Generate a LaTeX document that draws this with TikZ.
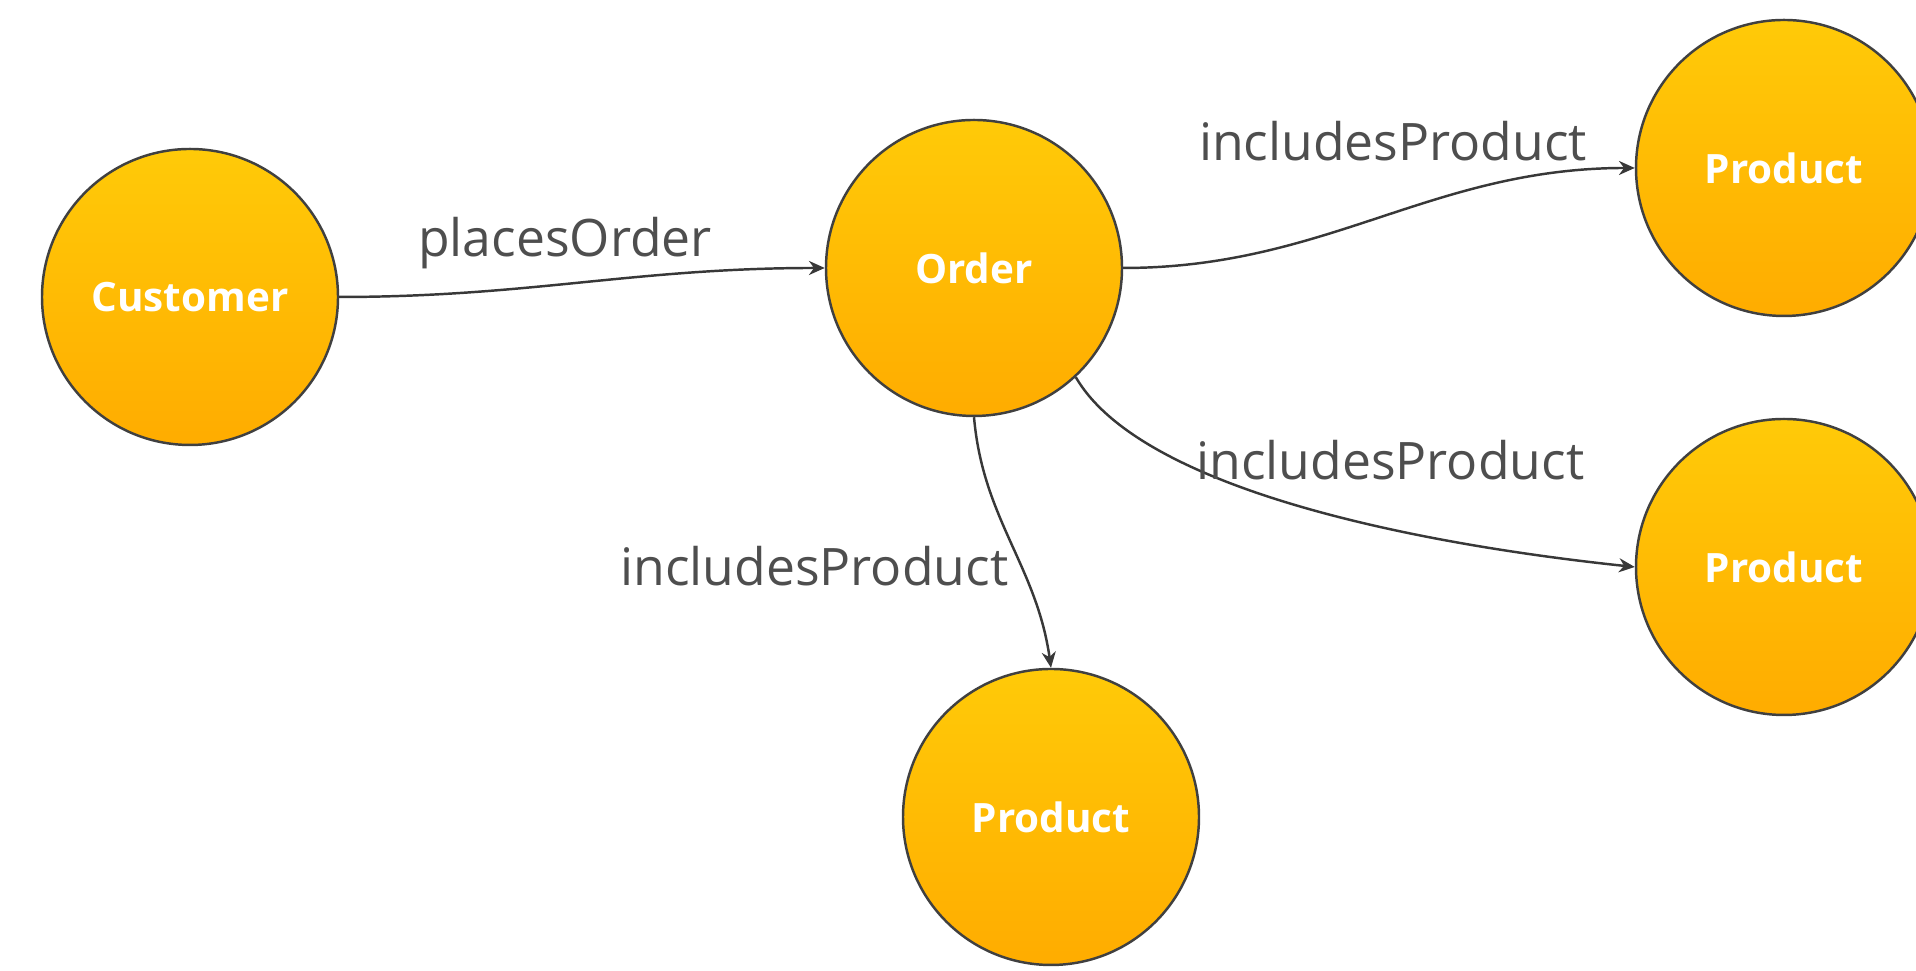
\documentclass[tikz,border=0pt]{standalone}
\usepackage{fontspec}
\setmainfont{Open Sans}
\usetikzlibrary{positioning, arrows.meta}

\definecolor{nodetop}{HTML}{FFCA08}
\definecolor{nodebot}{HTML}{FFAC00}
\definecolor{linegray}{HTML}{383838}
\definecolor{labgray}{HTML}{4E4E4E}

\begin{document}
\begin{tikzpicture}[
      >={Stealth[length=4.5pt, width=4pt]},
      entity/.style={circle, draw=black!75, line width=0.7pt, minimum size=2.96cm, inner sep=0pt,
        top color=nodetop, bottom color=nodebot, text=white, font=\fontsize{11.5}{13}\selectfont\bfseries},
      link/.style={->, line width=0.7pt, draw=linegray},
      lab/.style={font=\fontsize{14.7}{16}\selectfont, text=labgray, inner sep=1.5pt}
    ]
    \useasboundingbox (0,0) rectangle (19.16,9.71);

    \node[entity] (customer) at (1.90,6.74) {Customer};
    \node[entity] (order) at (9.74,7.03) {Order};
    \node[entity] (prodA) at (17.84,8.03) {Product};
    \node[entity] (prodB) at (17.84,4.04) {Product};
    \node[entity] (prodC) at (10.51,1.54) {Product};

    \draw[link] (customer.east) to[out=0, in=180] node[lab, above=2pt, xshift=-0.17cm] (labPlaces) {placesOrder} (order.west);
    \draw[link] (order.east) to[out=0, in=180] node[lab, above=0.5cm, xshift=0.14cm] (labIncA) {includesProduct} (prodA.west);
    \draw[link] (order.-47) to[out=-60, in=174, out looseness=0.55, in looseness=1.0]
      node[lab, pos=0.6, above=0.35cm, xshift=0.33cm] (labIncB) {includesProduct} (prodB.west);
    \draw[link] (order.south) to[out=-85, in=98] node[lab, pos=0.58, left=1pt, yshift=-0.06cm] (labIncC) {includesProduct} (prodC.north);
  \end{tikzpicture}
\end{document}
